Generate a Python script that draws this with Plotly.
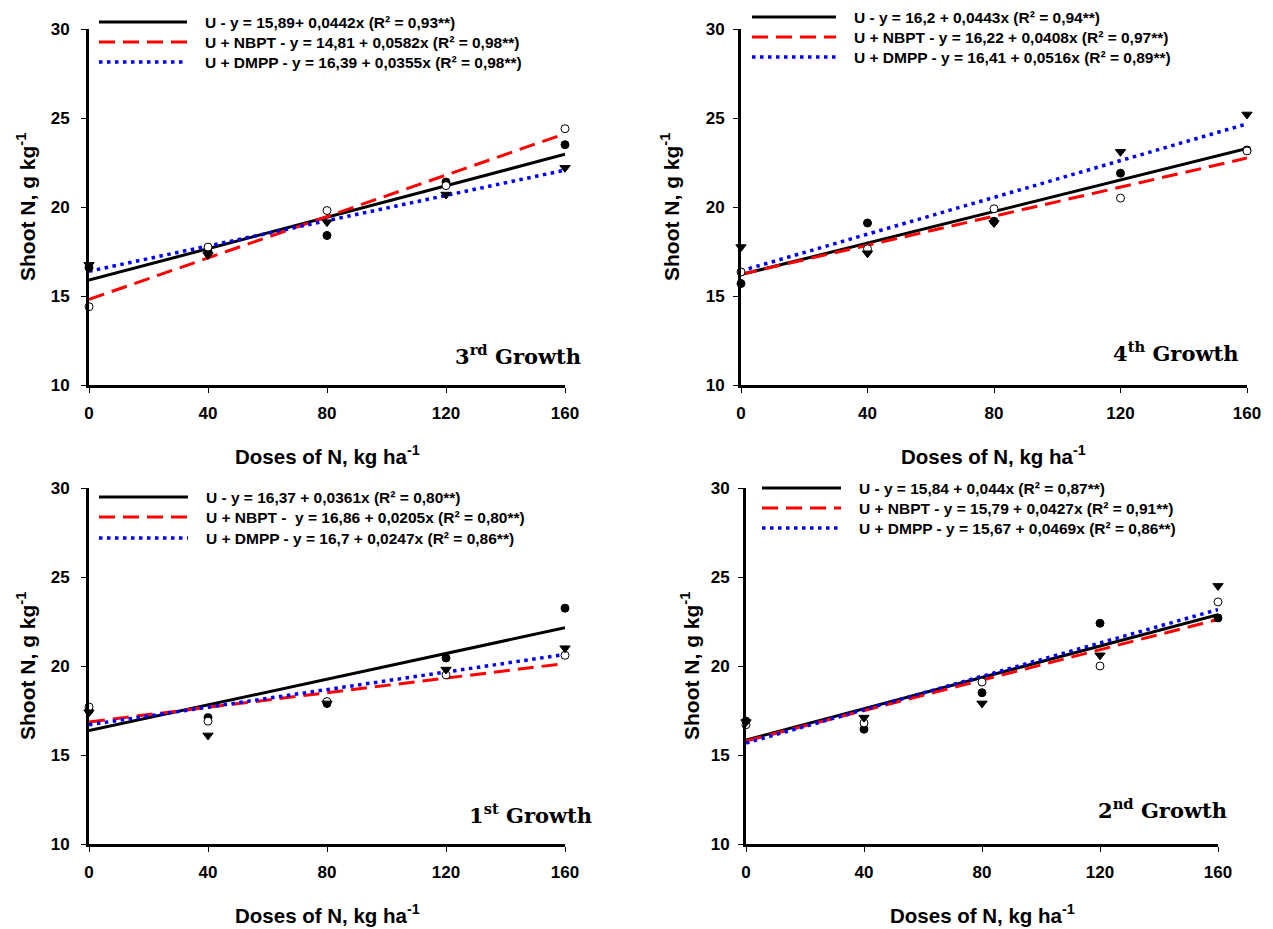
import plotly.graph_objects as go

W, H = 1273, 929

doses = [0, 40, 80, 120, 160]
fit_x = [0, 160]
series_names = ["U", "U + NBPT", "U + DMPP"]

# Panel A: 3rd Growth (top-left)
g3_U = [16.6, 17.5, 18.4, 21.4, 23.5]
g3_NBPT = [14.4, 17.75, 19.8, 21.2, 24.4]
g3_DMPP = [16.75, 17.3, 19.15, 20.7, 22.2]
g3_fit_U = [15.89, 22.96]
g3_fit_NBPT = [14.81, 24.12]
g3_fit_DMPP = [16.39, 22.07]
g3_legend = ["U - y = 15,89+ 0,0442x (R² = 0,93**)",
             "U + NBPT - y = 14,81 + 0,0582x (R² = 0,98**)",
             "U + DMPP - y = 16,39 + 0,0355x (R² = 0,98**)"]

# Panel B: 4th Growth (top-right)
g4_U = [15.7, 19.1, 19.2, 21.9, 23.2]
g4_NBPT = [16.35, 17.65, 19.9, 20.5, 23.15]
g4_DMPP = [17.75, 17.4, 19.1, 23.1, 25.2]
g4_fit_U = [16.2, 23.29]
g4_fit_NBPT = [16.22, 22.75]
g4_fit_DMPP = [16.41, 24.67]
g4_legend = ["U - y = 16,2 + 0,0443x (R² = 0,94**)",
             "U + NBPT - y = 16,22 + 0,0408x (R² = 0,97**)",
             "U + DMPP - y = 16,41 + 0,0516x (R² = 0,89**)"]

# Panel C: 1st Growth (bottom-left)
g1_U = [17.5, 17.1, 17.9, 20.45, 23.25]
g1_NBPT = [17.7, 16.9, 18.0, 19.5, 20.6]
g1_DMPP = [17.4, 16.1, 17.9, 19.8, 21.0]
g1_fit_U = [16.37, 22.15]
g1_fit_NBPT = [16.86, 20.14]
g1_fit_DMPP = [16.7, 20.65]
g1_legend = ["U - y = 16,37 + 0,0361x (R² = 0,80**)",
             "U + NBPT - \u00a0y = 16,86 + 0,0205x (R² = 0,80**)",
             "U + DMPP - y = 16,7 + 0,0247x (R² = 0,86**)"]

# Panel D: 2nd Growth (bottom-right)
g2_U = [16.9, 16.45, 18.5, 22.4, 22.7]
g2_NBPT = [16.7, 16.8, 19.1, 20.0, 23.6]
g2_DMPP = [16.85, 17.1, 17.9, 20.6, 24.5]
g2_fit_U = [15.84, 22.88]
g2_fit_NBPT = [15.79, 22.62]
g2_fit_DMPP = [15.67, 23.17]
g2_legend = ["U - y = 15,84 + 0,044x (R² = 0,87**)",
             "U + NBPT - y = 15,79 + 0,0427x (R² = 0,91**)",
             "U + DMPP - y = 15,67 + 0,0469x (R² = 0,86**)"]

x_ticks = [0, 40, 80, 120, 160]
y_ticks = [10, 15, 20, 25, 30]
x_title = "Doses of N, kg ha<sup>-1</sup>"
y_title = "Shoot N, g kg<sup>-1</sup>"

SANS = "Arial, Liberation Sans, sans-serif"
SERIF = "DejaVu Serif, serif"
PAD = "\u00a0\u00a0\u00a0"
LEG_FS = 15.5
LEG_OFF = (1.3 * LEG_FS + 3) / 2 + 5  # legend top -> first row centre

panels = [
    dict(ax="", points=(g3_U, g3_NBPT, g3_DMPP), fits=(g3_fit_U, g3_fit_NBPT, g3_fit_DMPP),
         legend=g3_legend, label="3<sup>rd</sup> Growth",
         px=(89, 565), py=(29, 385), legx=94, rows=(22, 42, 62), iw=88,
         lab=(518, 355), ytx=26, ysd=8),
    dict(ax="2", points=(g4_U, g4_NBPT, g4_DMPP), fits=(g4_fit_U, g4_fit_NBPT, g4_fit_DMPP),
         legend=g4_legend, label="4<sup>th</sup> Growth",
         px=(741, 1247), py=(29, 385), legx=747, rows=(17, 37, 57), iw=84,
         lab=(1175, 352), ytx=670, ysd=5),
    dict(ax="3", points=(g1_U, g1_NBPT, g1_DMPP), fits=(g1_fit_U, g1_fit_NBPT, g1_fit_DMPP),
         legend=g1_legend, label="1<sup>st</sup> Growth",
         px=(89, 565), py=(488, 844), legx=94, rows=(497, 517, 538), iw=89,
         lab=(530, 814), ytx=26, ysd=8),
    dict(ax="4", points=(g2_U, g2_NBPT, g2_DMPP), fits=(g2_fit_U, g2_fit_NBPT, g2_fit_DMPP),
         legend=g2_legend, label="2<sup>nd</sup> Growth",
         px=(746, 1218), py=(488, 844), legx=757, rows=(488, 508, 528), iw=79,
         lab=(1162, 809), ytx=690, ysd=5),
]

line_styles = [
    dict(color="black", width=3, dash="solid"),
    dict(color="#ff0000", width=3, dash="16px,8px"),
    dict(color="#0000ff", width=3.5, dash="3.5px,4.5px"),
]
marker_styles = [
    dict(symbol="circle", size=8, color="black", line=dict(color="black", width=1)),
    dict(symbol="circle", size=8, color="white", line=dict(color="black", width=1)),
    dict(symbol="triangle-down", size=9, color="black", line=dict(color="black", width=1)),
]

fig = go.Figure()
layout = dict(width=W, height=H, margin=dict(l=0, r=0, t=0, b=0),
              paper_bgcolor="white", plot_bgcolor="white", showlegend=True,
              annotations=[])

leg_count = 0
for i, p in enumerate(panels):
    ax = p["ax"]
    xa, ya = "x" + ax, "y" + ax
    for k in range(3):
        leg_count += 1
        legname = "legend" + ("" if leg_count == 1 else str(leg_count))
        fig.add_trace(go.Scatter(x=fit_x, y=p["fits"][k], mode="lines",
                                 line=line_styles[k], name=PAD + p["legend"][k],
                                 xaxis=xa, yaxis=ya, legend=legname,
                                 cliponaxis=False, showlegend=True))
        layout[legname] = dict(x=p["legx"] / W, y=1 - (p["rows"][k] - LEG_OFF) / H,
                               xanchor="left", yanchor="top",
                               bgcolor="rgba(0,0,0,0)", borderwidth=0, itemwidth=p["iw"],
                               font=dict(family=SANS, size=LEG_FS, color="black",
                                         weight="bold"))
    for k in range(3):
        fig.add_trace(go.Scatter(x=doses, y=p["points"][k], mode="markers",
                                 marker=marker_styles[k], name=series_names[k],
                                 xaxis=xa, yaxis=ya, cliponaxis=False, showlegend=False))
    x0, x1 = p["px"]
    y0, y1 = p["py"]
    axis_common = dict(showline=True, linewidth=3, linecolor="black", showgrid=False,
                       zeroline=False, ticks="outside", ticklen=5, tickwidth=1,
                       tickcolor="black", mirror=False, automargin=False,
                       tickfont=dict(family=SANS, size=17, color="black", weight="bold"))
    layout["xaxis" + ax] = dict(axis_common, domain=[x0 / W, x1 / W], range=[0, 160],
                                tickvals=x_ticks, anchor=ya, ticklabelstandoff=6)
    layout["yaxis" + ax] = dict(axis_common, domain=[1 - y1 / H, 1 - y0 / H], range=[10, 30],
                                tickvals=y_ticks, anchor=xa, ticklabelstandoff=p["ysd"])
    # axis titles
    layout["annotations"].append(dict(
        text="<b>" + y_title + "</b>", xref="paper", yref="paper",
        x=p["ytx"] / W, y=1 - ((y0 + y1) / 2) / H, textangle=-90,
        showarrow=False, xanchor="center", yanchor="middle",
        font=dict(family=SANS, size=21, color="black")))
    layout["annotations"].append(dict(
        text="<b>" + x_title + "</b>", xref="paper", yref="paper",
        x=((x0 + x1) / 2) / W, y=1 - (y1 + 70) / H,
        showarrow=False, xanchor="center", yanchor="middle",
        font=dict(family=SANS, size=20.5, color="black")))
    lbx, lby = p["lab"]
    layout["annotations"].append(dict(
        text="<b>" + p["label"] + "</b>", xref="paper", yref="paper",
        x=lbx / W, y=1 - lby / H, showarrow=False, xanchor="center", yanchor="middle",
        font=dict(family=SERIF, size=21, color="black")))

fig.update_layout(**layout)
fig.write_html("out.html", config={"displayModeBar": False},
               post_script="document.body.style.margin='0px';")
